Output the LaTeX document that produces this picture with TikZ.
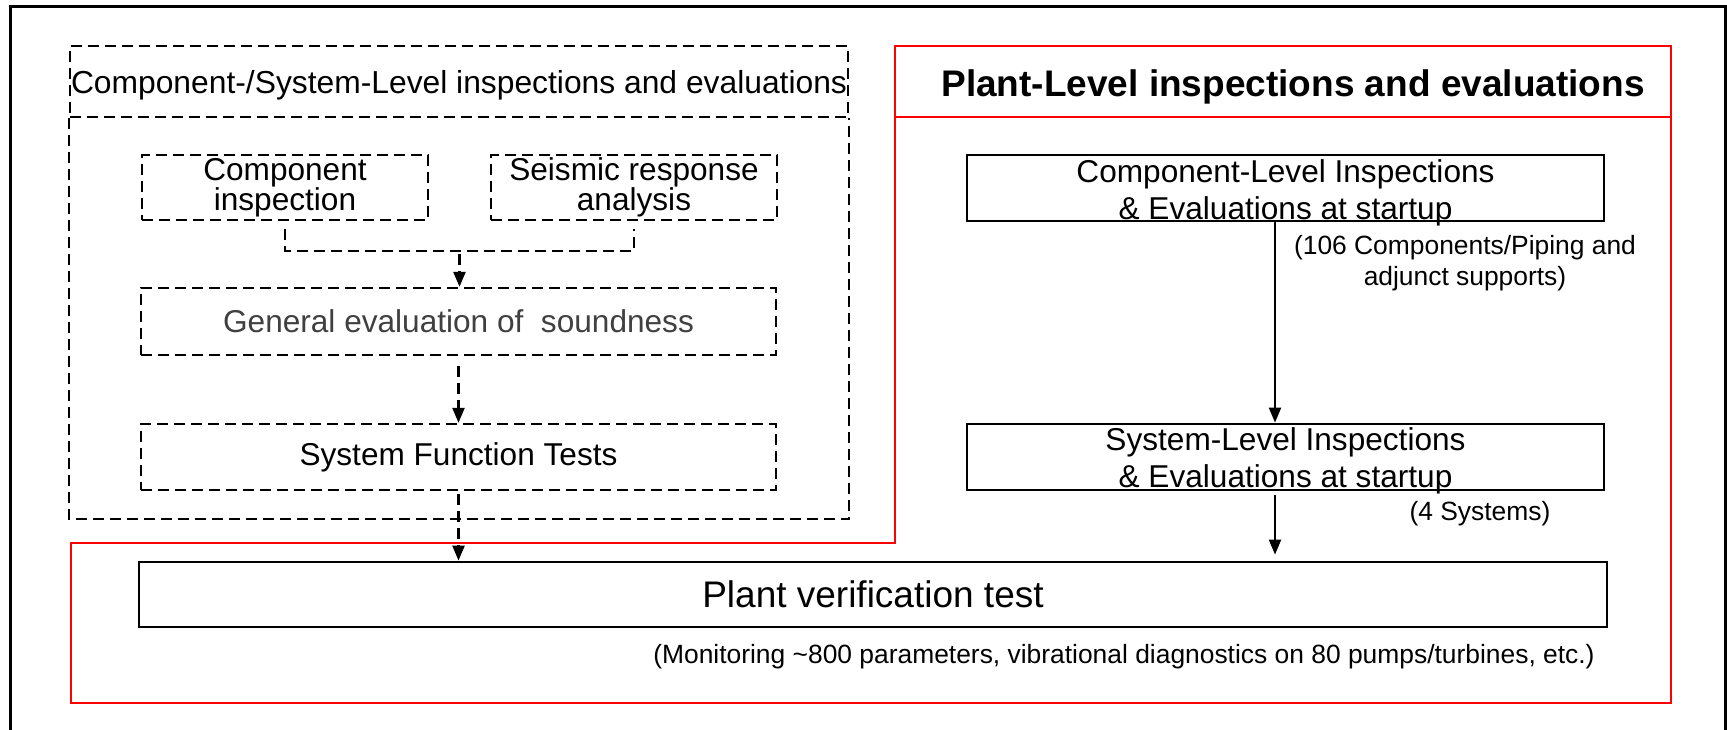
\documentclass[tikz,border=0pt]{standalone}
\usepackage{fontspec}
\setmainfont{Liberation Sans}
\usetikzlibrary{positioning, arrows.meta, calc}

\tikzset{
  dline/.style={line width=2.4pt, dash pattern=on 11pt off 6pt},
  dbox/.style={draw, dline, inner sep=0pt, minimum width=286pt, minimum height=65pt, align=center, font=\fontsize{31.6}{28}\selectfont},
  sbox/.style={draw, line width=2.8pt, inner sep=0pt, minimum width=637pt, minimum height=66pt},
  btext/.style={inner sep=0pt, align=center, font=\fontsize{31.6}{37}\selectfont},
  note/.style={inner sep=0pt, align=center, font=\fontsize{26.4}{31}\selectfont},
}

\begin{document}
\begin{tikzpicture}[x=1pt, y=-1pt, node distance=100pt, on grid, >={Triangle[length=15pt,width=12pt]}]
  \useasboundingbox (0,0) rectangle (1727,730);
  % outer frame
  \draw[line width=3pt] (10,740) |- (1725,7) -- (1725,740);

  % component-/system-level part
  \node[dbox, minimum width=778pt, minimum height=71pt, text height=24pt, text depth=0pt, font=\fontsize{31.8}{28}\selectfont] (hdrleft) at (459,81.5) {Component-/System-Level inspections and evaluations};
  \draw[dline] (hdrleft.south west) -- ++(0,401) -| (hdrleft.south east);

  \node[dbox] (compinsp) at (285,187.5) {Component\\inspection};
  \node[dbox] (seisresp) [right=349pt of compinsp] {Seismic response\\analysis};
  \node[dbox, minimum width=635pt, minimum height=67pt, text=black!75] (geneval) at (458.5,321.5) {General evaluation of\ \ soundness};
  \node[dbox, minimum width=635pt, minimum height=66pt] (systest) [below=135.5pt of geneval] {System Function Tests};
  \coordinate (join) at ($(compinsp.south)!0.5!(seisresp.south)+(0,30)$);

  % plant-level part
  \draw[red, line width=2.5pt] (895,543) -- (895,46) -- (1671,46) -- (1671,703) -- (71,703) -- (71,543) -- cycle;
  \draw[red, line width=2.5pt] (895,117) -- (1671,117);
  \node[anchor=base, inner sep=0pt, font=\bfseries\fontsize{37}{44}\selectfont] (hdrright) at (1293,97) {Plant-Level inspections and evaluations};

  \node[sbox] (complvl) at (1285.5,188) {};
  \node[btext] (complvltx) [below=5pt of complvl] {Component-Level Inspections\\\& Evaluations at startup};
  \node[sbox] (syslvl) [below=269pt of complvl] {};
  \node[btext] (syslvltx) [below=4pt of syslvl] {System-Level Inspections\\\& Evaluations at startup};
  \node[note] (note106) at (1465,263.5) {(106 Components/Piping and\\adjunct supports)};
  \node[note, anchor=base] (note4) at (1480,520) {(4 Systems)};

  \node[sbox, minimum width=1468pt, minimum height=65pt, font=\fontsize{37}{44}\selectfont] (plantvt) at (873,594.5) {Plant verification test};
  \node[note, anchor=base] (notemon) at (1124,663) {(Monitoring \textasciitilde800 parameters, vibrational diagnostics on 80 pumps/turbines, etc.)};

  % connectors
  \draw[dline, shorten <=8pt, shorten >=8pt] (compinsp.south) |- (join) -| (seisresp.south);
  \draw[dline, ->, shorten <=3pt] (join) -- (join |- geneval.north);
  \draw[dline, ->, shorten <=10pt] (geneval) -- (systest);
  \draw[dline, ->, shorten <=3pt] (systest.south) -- (systest.south |- plantvt.north);
  \draw[line width=2.2pt, ->] ([xshift=-10.5pt]complvl.south) -- ([xshift=-10.5pt]syslvl.north);
  \draw[line width=2.2pt, ->, shorten <=4pt, shorten >=6pt] ([xshift=-10.5pt]syslvl.south) -- ([xshift=-10.5pt]syslvl.south |- plantvt.north);
\end{tikzpicture}
\end{document}
